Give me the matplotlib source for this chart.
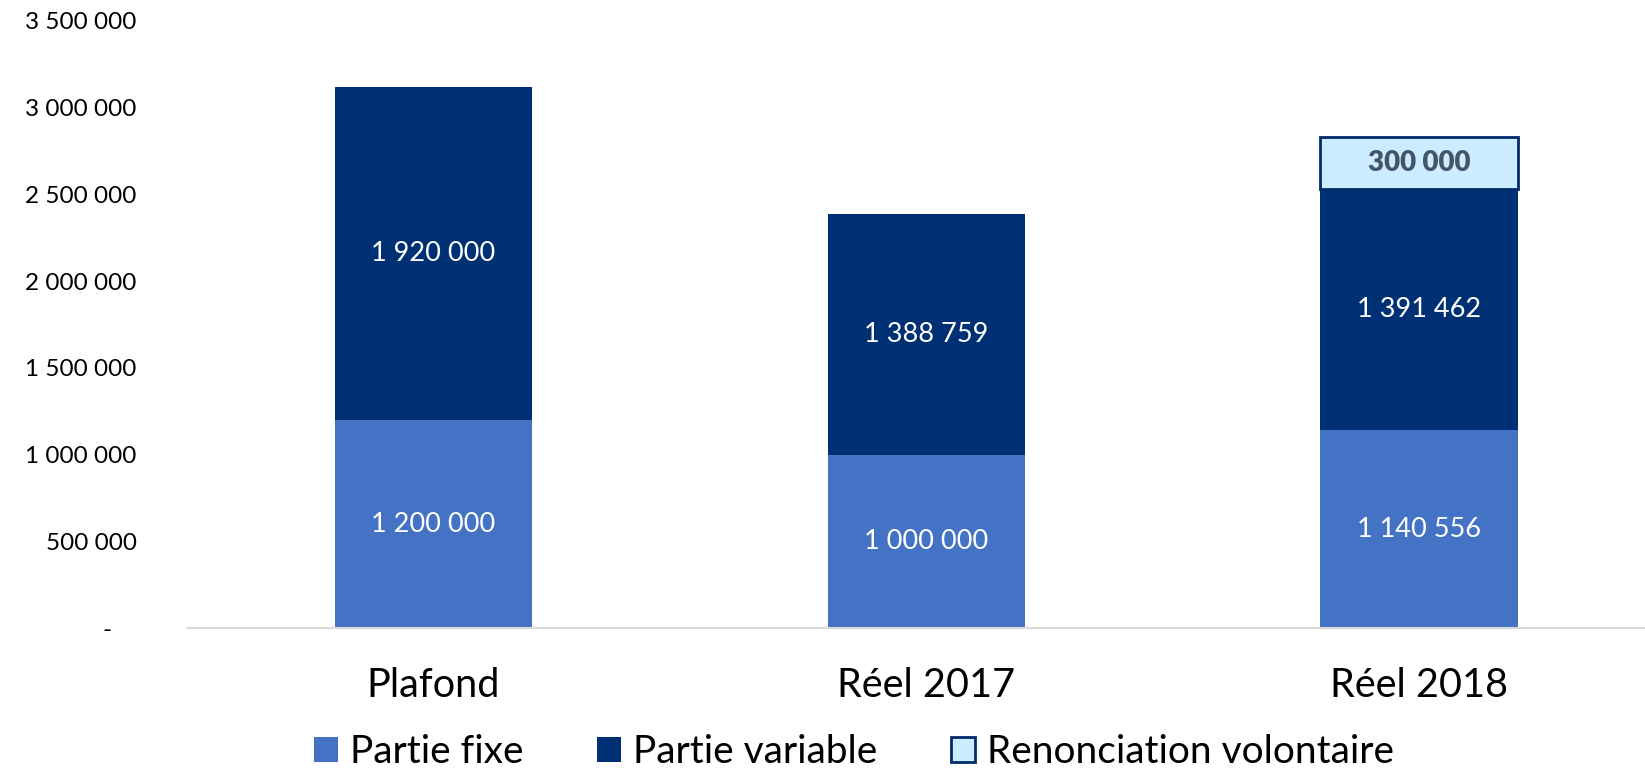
import numpy as np
import matplotlib
matplotlib.use("Agg")
import matplotlib.pyplot as plt
from matplotlib.ticker import FuncFormatter

plt.rcParams["font.family"] = ["Lato", "DejaVu Sans"]

categories = ["Plafond", "Réel 2017", "Réel 2018"]
partie_fixe = [1200000, 1000000, 1140556]
partie_variable = [1920000, 1388759, 1391462]
renonciation = [0, 0, 300000]
y_ticks = [0, 500000, 1000000, 1500000, 2000000, 2500000, 3000000, 3500000]


def fmt(v):
    if v == 0:
        return "-    "
    return f"{int(round(v)):,}".replace(",", " ")


def main():
    fig = plt.figure(figsize=(16.45, 7.72), dpi=100)
    ax = fig.add_axes([0.1135, 0.186, 0.899, 0.7874])
    x = np.arange(len(categories))
    w = 0.4

    fixe = np.array(partie_fixe)
    var = np.array(partie_variable)
    ren = np.array(renonciation)

    b1 = ax.bar(x, fixe, w, color="#4472C4", label="Partie fixe", zorder=2)
    b2 = ax.bar(x, var, w, bottom=fixe, color="#003074", label="Partie variable", zorder=2)
    mask = ren > 0
    b3 = ax.bar(x[mask], ren[mask], w, bottom=(fixe + var)[mask], color="#CCECFF",
                edgecolor="#002B6B", linewidth=2, label="Renonciation volontaire", zorder=2)

    # valeurs dans les barres
    for vals, bot in [(fixe, np.zeros(3)), (var, fixe)]:
        for xi, v, b in zip(x, vals, bot):
            ax.text(xi, b + v / 2, fmt(v), ha="center", va="center",
                    color="white", fontsize=19.5)
    for xi, v, b in zip(x[mask], ren[mask], (fixe + var)[mask]):
        ax.text(xi, b + v / 2, fmt(v), ha="center", va="center",
                color="#44546A", fontsize=20, fontweight="heavy")

    ax.set_xlim(-0.5, 2.5)
    ax.set_ylim(0, 3500000)
    ax.set_yticks(y_ticks)
    ax.yaxis.set_major_formatter(FuncFormatter(lambda v, p: fmt(v)))
    ax.set_xticks(x)
    ax.set_xticklabels(categories)

    for s in ["left", "top", "right"]:
        ax.spines[s].set_visible(False)
    ax.spines["bottom"].set_color("#D9D9D9")
    ax.spines["bottom"].set_linewidth(1.5)

    ax.tick_params(axis="y", length=0, pad=36, labelsize=17.5)
    ax.tick_params(axis="x", length=0, pad=28, labelsize=28.5)

    fig.legend(handles=[b1, b2, b3], loc="lower center", ncol=3,
               bbox_to_anchor=(0.519, -0.043), frameon=False, fontsize=28,
               handlelength=0.62, handleheight=0.62, handletextpad=0.3,
               columnspacing=1.9)

    fig.savefig("out.png", dpi=100)


if __name__ == "__main__":
    main()
